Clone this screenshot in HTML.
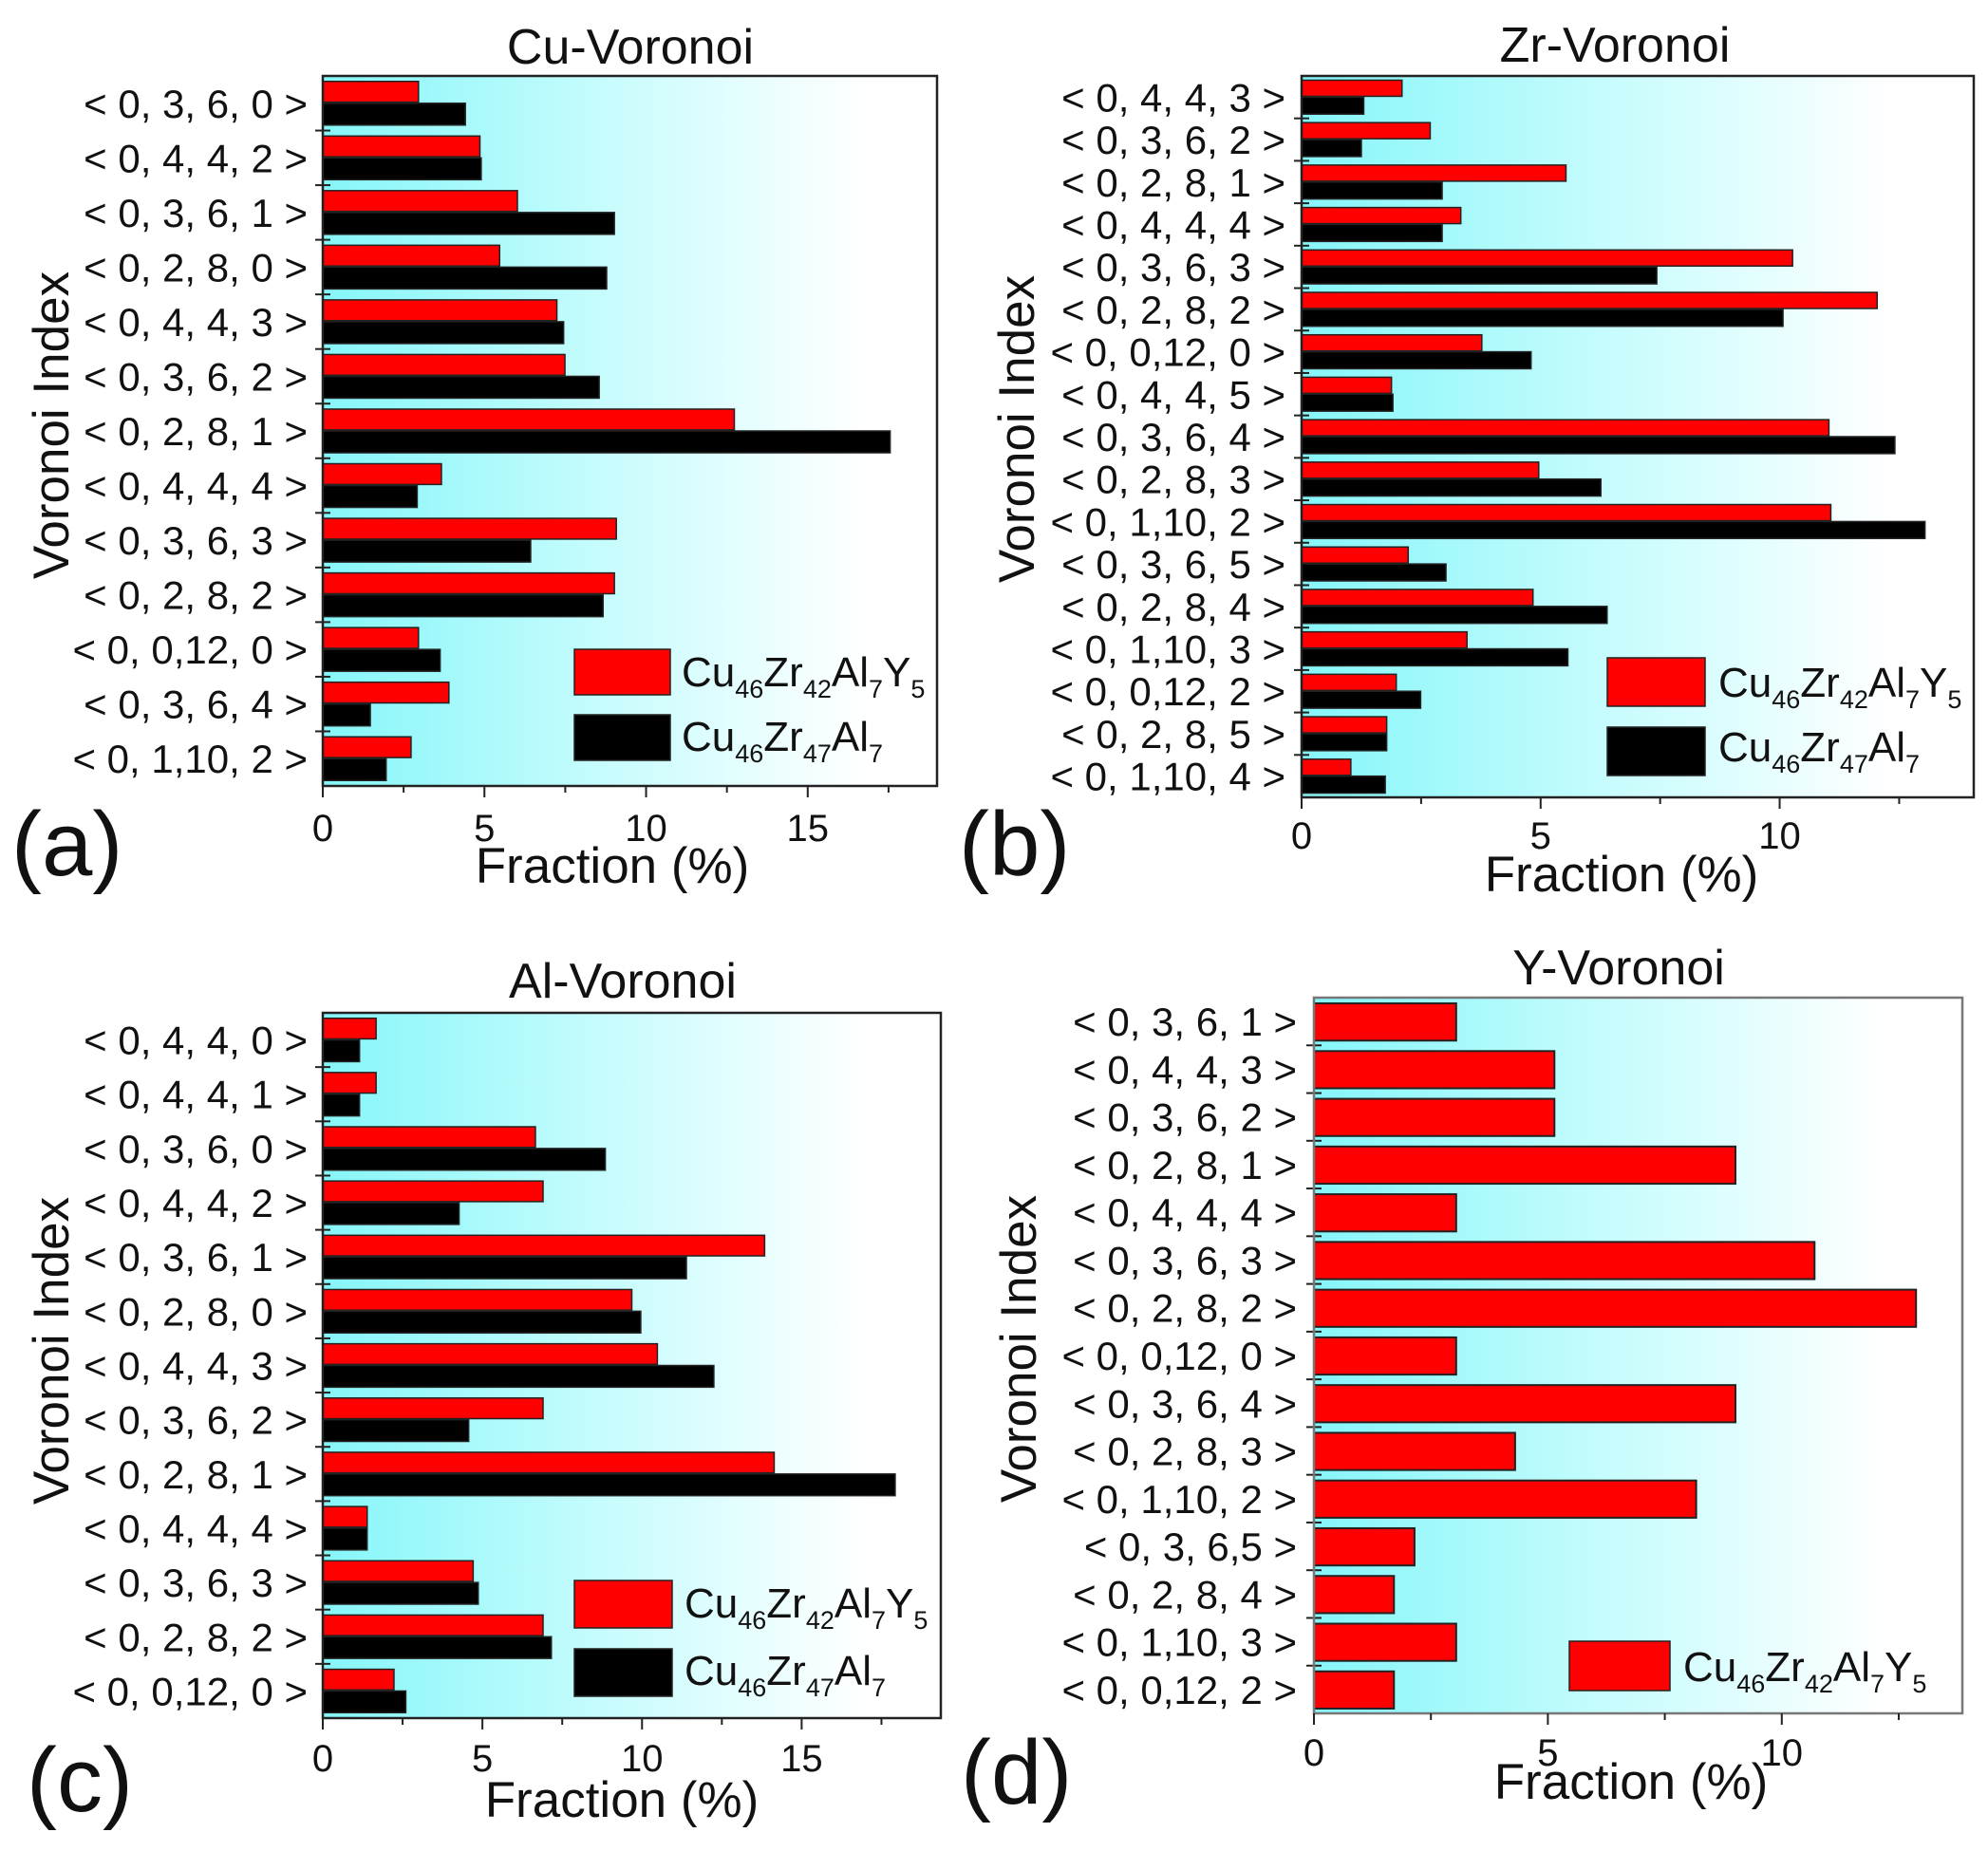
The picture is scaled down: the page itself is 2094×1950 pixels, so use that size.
<!DOCTYPE html>
<html><head><meta charset="utf-8">
<style>
html,body{margin:0;padding:0;background:#fff;}
svg{display:block;font-family:"Liberation Sans",Arial,sans-serif;}
</style></head>
<body>
<svg id="fig" width="2094" height="1950" viewBox="0 0 2094 1950" xmlns="http://www.w3.org/2000/svg">
<defs>
<linearGradient id="bg" x1="0" y1="0" x2="1" y2="0">
<stop offset="0" stop-color="#86f6f9"/>
<stop offset="0.45" stop-color="#c6fcfd"/>
<stop offset="0.88" stop-color="#ffffff"/>
<stop offset="1" stop-color="#ffffff"/>
</linearGradient>
</defs>
</svg>
<script>
// ---- Panel (a) Cu-Voronoi ----
const catsA = ["< 0, 3, 6, 0 >","< 0, 4, 4, 2 >","< 0, 3, 6, 1 >","< 0, 2, 8, 0 >","< 0, 4, 4, 3 >","< 0, 3, 6, 2 >","< 0, 2, 8, 1 >","< 0, 4, 4, 4 >","< 0, 3, 6, 3 >","< 0, 2, 8, 2 >","< 0, 0,12, 0 >","< 0, 3, 6, 4 >","< 0, 1,10, 2 >"];
const redA = [2.96,4.86,6.02,5.47,7.24,7.49,12.73,3.67,9.08,9.02,2.96,3.9,2.73];
const blackA = [4.41,4.9,9.02,8.78,7.45,8.55,17.55,2.92,6.43,8.67,3.63,1.47,1.96];
const ticksA = [0,5,10,15];
// ---- Panel (b) Zr-Voronoi ----
const catsB = ["< 0, 4, 4, 3 >","< 0, 3, 6, 2 >","< 0, 2, 8, 1 >","< 0, 4, 4, 4 >","< 0, 3, 6, 3 >","< 0, 2, 8, 2 >","< 0, 0,12, 0 >","< 0, 4, 4, 5 >","< 0, 3, 6, 4 >","< 0, 2, 8, 3 >","< 0, 1,10, 2 >","< 0, 3, 6, 5 >","< 0, 2, 8, 4 >","< 0, 1,10, 3 >","< 0, 0,12, 2 >","< 0, 2, 8, 5 >","< 0, 1,10, 4 >"];
const redB = [2.1,2.69,5.53,3.33,10.27,12.04,3.77,1.88,11.03,4.96,11.07,2.23,4.84,3.46,1.98,1.78,1.03];
const blackB = [1.3,1.25,2.94,2.94,7.43,10.07,4.8,1.91,12.41,6.26,13.04,3.02,6.39,5.57,2.49,1.78,1.75];
const ticksB = [0,5,10];
// ---- Panel (c) Al-Voronoi ----
const catsC = ["< 0, 4, 4, 0 >","< 0, 4, 4, 1 >","< 0, 3, 6, 0 >","< 0, 4, 4, 2 >","< 0, 3, 6, 1 >","< 0, 2, 8, 0 >","< 0, 4, 4, 3 >","< 0, 3, 6, 2 >","< 0, 2, 8, 1 >","< 0, 4, 4, 4 >","< 0, 3, 6, 3 >","< 0, 2, 8, 2 >","< 0, 0,12, 0 >"];
const redC = [1.67,1.67,6.66,6.9,13.84,9.68,10.48,6.9,14.14,1.39,4.71,6.9,2.23];
const blackC = [1.15,1.15,8.85,4.27,11.39,9.96,12.25,4.57,17.93,1.39,4.87,7.16,2.6];
const ticksC = [0,5,10,15];
// ---- Panel (d) Y-Voronoi ----
const catsD = ["< 0, 3, 6, 1 >","< 0, 4, 4, 3 >","< 0, 3, 6, 2 >","< 0, 2, 8, 1 >","< 0, 4, 4, 4 >","< 0, 3, 6, 3 >","< 0, 2, 8, 2 >","< 0, 0,12, 0 >","< 0, 3, 6, 4 >","< 0, 2, 8, 3 >","< 0, 1,10, 2 >","< 0, 3, 6,5 >","< 0, 2, 8, 4 >","< 0, 1,10, 3 >","< 0, 0,12, 2 >"];
const redD = [3.04,5.14,5.14,9.01,3.04,10.7,12.87,3.04,9.01,4.3,8.17,2.15,1.71,3.04,1.71];
const ticksD = [0,5,10];

const NS = "http://www.w3.org/2000/svg";
const svg = document.getElementById("fig");
function mk(tag, attrs, parent) {
  const e = document.createElementNS(NS, tag);
  for (const k in attrs) e.setAttribute(k, attrs[k]);
  (parent || svg).appendChild(e);
  return e;
}

function legendText(g, x, y, parts) {
  const t = mk("text", {x: x, y: y, "font-size": 44, fill: "#111"}, g);
  
  
  parts.forEach(p => {
    const s = mk("tspan", {}, t);
    if (p[1]) { s.setAttribute("font-size", 27); s.setAttribute("dy", 12); }
    else if (p[2]) { s.setAttribute("dy", -12); }
    s.textContent = p[0];
  });
}
const L1 = [["Cu"],["46",1],["Zr",0,1],["42",1],["Al",0,1],["7",1],["Y",0,1],["5",1]];
const L2 = [["Cu"],["46",1],["Zr",0,1],["47",1],["Al",0,1],["7",1]];

function panel(cfg) {
  const g = mk("g", {});
  
  
  const {L, R, T, B, xmax, cats} = cfg;
  const xs = v => L + (v / xmax) * (R - L);
  const band = (B - T) / cats.length;
  const yb = i => T + i * band;
  const bg = mk("rect", {x: L, y: T, width: R - L, height: B - T, fill: "url(#bg)"}, g);
  
  
  cats.forEach((c, i) => {
    if (cfg.black) {
      const r = mk("rect", {x: L, y: yb(i) + band * 0.1, width: xs(cfg.red[i]) - L, height: band * 0.38, fill: "#ff0000", stroke: "#222", "stroke-width": 1.5}, g);
      
      
      const b = mk("rect", {x: L, y: yb(i) + band * 0.5, width: xs(cfg.black[i]) - L, height: band * 0.4, fill: "#000", stroke: "#222", "stroke-width": 1.5}, g);
      
      
    } else {
      const r = mk("rect", {x: L, y: yb(i) + band * 0.12, width: xs(cfg.red[i]) - L, height: band * 0.78, fill: "#ff0000", stroke: "#222", "stroke-width": 2}, g);
      
      
    }
    const lab = mk("text", {x: cfg.labR, y: yb(i) + band / 2 + 15, "font-size": 42, "text-anchor": "end", fill: "#111"}, g);
    
    
    lab.textContent = c;
    if (i > 0) {
      const tk = mk("line", {x1: L - 8, x2: L + 8, y1: yb(i), y2: yb(i), stroke: "#222", "stroke-width": 2}, g);
      
      
    }
  });
  const fr = mk("rect", {x: L, y: T, width: R - L, height: B - T, fill: "none", stroke: cfg.frame || "#222", "stroke-width": 2.5}, g);
  
  
  for (let v = 2.5; v < xmax; v += 5) {
    const m = mk("line", {x1: xs(v), x2: xs(v), y1: B, y2: B + 7, stroke: "#222", "stroke-width": 2}, g);
    
    
  }
  cfg.ticks.forEach(v => {
    const m = mk("line", {x1: xs(v), x2: xs(v), y1: B, y2: B + 12, stroke: "#222", "stroke-width": 2}, g);
    
    
    const t = mk("text", {x: xs(v), y: cfg.tickY, "font-size": 40, "text-anchor": "middle", fill: "#111"}, g);
    
    
    t.textContent = v;
  });
  const ti = mk("text", {x: cfg.titleX, y: cfg.titleY, "font-size": 52, "text-anchor": "middle", fill: "#111"}, g);
  
  
  ti.textContent = cfg.title;
  const xt = mk("text", {x: cfg.xtX, y: cfg.xtY, "font-size": 53, "text-anchor": "middle", fill: "#111"}, g);
  
  
  xt.textContent = "Fraction (%)";
  const yt = mk("text", {x: 0, y: 0, "font-size": 53, "text-anchor": "middle", fill: "#111", transform: `translate(${cfg.ytX},${cfg.ytY}) rotate(-90)`}, g);
  
  
  yt.textContent = "Voronoi Index";
  const pl = mk("text", {x: cfg.plX, y: cfg.plY, "font-size": 96, fill: "#111"}, g);
  
  
  pl.textContent = cfg.letter;
  const lg = cfg.leg;
  const s1 = mk("rect", {x: lg.x, y: lg.y1, width: lg.w, height: lg.h, fill: "#ff0000", stroke: "#222", "stroke-width": 1.5}, g);
  
  
  legendText(g, lg.tx, lg.b1, L1);
  if (cfg.black) {
    const s2 = mk("rect", {x: lg.x, y: lg.y2, width: lg.w, height: lg.h, fill: "#000", stroke: "#222", "stroke-width": 1.5}, g);
    
    
    legendText(g, lg.tx, lg.b2, L2);
  }
}

panel({name: "panel-a-cu-voronoi", L: 340, R: 987, T: 80, B: 828, xmax: 19, cats: catsA, red: redA, black: blackA, ticks: ticksA,
  labR: 324, tickY: 886, title: "Cu-Voronoi", titleX: 664, titleY: 67, xtX: 645, xtY: 930, ytX: 72, ytY: 448,
  letter: "(a)", plX: 12, plY: 922,
  leg: {x: 605, w: 101, h: 48, y1: 684, y2: 753, tx: 718, b1: 723, b2: 791}});
panel({name: "panel-b-zr-voronoi", L: 1371, R: 2079, T: 80, B: 840, xmax: 14.06, cats: catsB, red: redB, black: blackB, ticks: ticksB,
  labR: 1354, tickY: 894, title: "Zr-Voronoi", titleX: 1701, titleY: 65, xtX: 1708, xtY: 939, ytX: 1089, ytY: 452,
  letter: "(b)", plX: 1010, plY: 922,
  leg: {x: 1693, w: 103, h: 51, y1: 693, y2: 766, tx: 1810, b1: 734, b2: 802}});
panel({name: "panel-c-al-voronoi", L: 340, R: 991, T: 1067, B: 1810, xmax: 19.36, cats: catsC, red: redC, black: blackC, ticks: ticksC,
  labR: 324, tickY: 1866, title: "Al-Voronoi", titleX: 656, titleY: 1051, xtX: 655, xtY: 1914, ytX: 72, ytY: 1423,
  letter: "(c)", plX: 28, plY: 1908,
  leg: {x: 605, w: 103, h: 50, y1: 1665, y2: 1737, tx: 721, b1: 1704, b2: 1775}});
panel({name: "panel-d-y-voronoi", L: 1384, R: 2067, T: 1051, B: 1805, xmax: 13.86, cats: catsD, red: redD, black: null, ticks: ticksD,
  labR: 1366, tickY: 1860, title: "Y-Voronoi", titleX: 1705, titleY: 1037, xtX: 1718, xtY: 1895, ytX: 1091, ytY: 1421,
  letter: "(d)", plX: 1012, plY: 1900, frame: "#777",
  leg: {x: 1653, w: 106, h: 52, y1: 1729, tx: 1773, b1: 1771}});
</script>
</body></html>
